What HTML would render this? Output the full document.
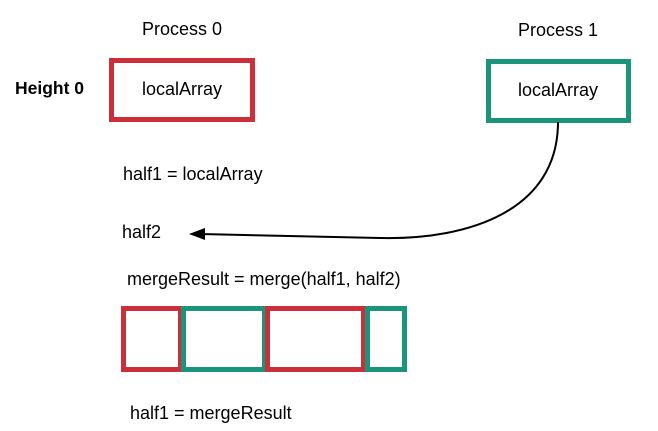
<!DOCTYPE html>
<html><head><meta charset="utf-8"><style>
body{margin:0;background:#fff}
svg{display:block;font-family:"Liberation Sans",Arial,sans-serif}
</style></head><body>
<svg width="658" height="431" viewBox="0 0 658 431">
<text x="182" y="35" font-size="18" text-anchor="middle">Process 0</text>
<text x="558" y="36" font-size="18" text-anchor="middle">Process 1</text>
<text x="15" y="94" font-size="17.5" font-weight="bold">Height 0</text>
<rect x="111.5" y="60.5" width="141" height="59" fill="none" stroke="#cc2e3a" stroke-width="5"/>
<text x="182" y="95" font-size="18" text-anchor="middle">localArray</text>
<rect x="488.5" y="61.5" width="140" height="59" fill="none" stroke="#1a957c" stroke-width="5"/>
<text x="558" y="96" font-size="18" text-anchor="middle">localArray</text>
<text x="123" y="180" font-size="18">half1 = localArray</text>
<text x="122" y="238" font-size="18">half2</text>
<path d="M558,122 C558,210 470,240 380,238 L200,234" fill="none" stroke="#000" stroke-width="2"/>
<polygon points="189,234 205,228 205,240" fill="#000"/>
<text x="127" y="285" font-size="18">mergeResult = merge(half1, half2)</text>
<rect x="123.5" y="308.5" width="57" height="61" fill="none" stroke="#cc2e3a" stroke-width="5"/>
<rect x="183.5" y="308.5" width="81" height="61" fill="none" stroke="#1a957c" stroke-width="5"/>
<rect x="267.5" y="308.5" width="96" height="61" fill="none" stroke="#cc2e3a" stroke-width="5"/>
<rect x="367.5" y="308.5" width="37" height="61" fill="none" stroke="#1a957c" stroke-width="5"/>
<text x="130" y="419" font-size="18">half1 = mergeResult</text>
</svg>
</body></html>
